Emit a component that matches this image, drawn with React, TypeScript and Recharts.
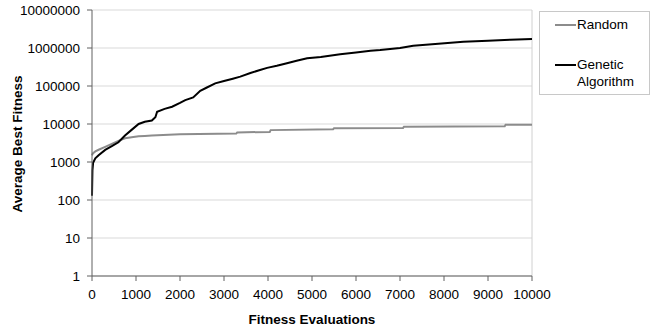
import {
  LineChart,
  Line,
  XAxis,
  YAxis,
  CartesianGrid,
  Legend,
  ReferenceLine,
  Label,
} from "recharts";

const X_TICKS = [0, 1000, 2000, 3000, 4000, 5000, 6000, 7000, 8000, 9000, 10000];
const Y_TICKS = [1, 10, 100, 1000, 10000, 100000, 1000000, 10000000];
const SERIES_NAMES = ["Random", "Genetic Algorithm"];

const randomEvals = [
  0, 10, 25, 75, 150, 300, 450, 600, 750, 900, 1060, 1200, 1360, 2000, 3280,
  3300, 4040, 4060, 5480, 5500, 7070, 7090, 9380, 9400, 10000,
];
const randomFitness = [
  1500, 1600, 1700, 1900, 2100, 2500, 3000, 3600, 4200, 4500, 4750, 4850, 5000,
  5400, 5600, 6000, 6200, 6900, 7300, 7700, 7900, 8500, 8700, 9500, 9600,
];

const gaEvals = [
  0, 10, 25, 75, 150, 300, 450, 600, 750, 900, 1060, 1200, 1360, 1440, 1480,
  1650, 1820, 2000, 2120, 2300, 2460, 2600, 2800, 3000, 3200, 3370, 3600, 3800,
  3980, 4200, 4430, 4650, 4890, 5200, 5640, 6000, 6330, 6550, 7000, 7300, 7800,
  8440, 9000, 9500, 10000,
];
const gaFitness = [
  130, 600, 950, 1250, 1500, 2080, 2600, 3300, 5000, 7000, 10000, 11500, 12300,
  15000, 21000, 25000, 28500, 36000, 42600, 50000, 75000, 90000, 117000, 135000,
  155000, 176000, 220000, 260000, 300000, 340000, 396000, 460000, 535000,
  580000, 680000, 760000, 850000, 880000, 1000000, 1150000, 1280000, 1470000,
  1550000, 1650000, 1730000,
];

const randomData = randomEvals.map((e, i) => ({ evals: e, fitness: randomFitness[i] }));
const gaData = gaEvals.map((e, i) => ({ evals: e, fitness: gaFitness[i] }));

const FONT = "Arial, 'Liberation Sans', sans-serif";
const tickStyle = { fontSize: 13.5, fill: "#000", fontFamily: FONT };

function LegendBox(props: any) {
  const items = [...(props.payload || [])].sort(
    (a: any, b: any) => SERIES_NAMES.indexOf(a.value) - SERIES_NAMES.indexOf(b.value)
  );
  return (
    <div
      style={{
        boxSizing: "border-box",
        width: 111,
        height: 84,
        border: "1px solid #c8c8c8",
        background: "#fff",
        paddingTop: 4,
        fontFamily: FONT,
        fontSize: 13.5,
        lineHeight: "17px",
        color: "#000",
      }}
    >
      {items.map((entry: any, i: number) => (
        <div
          key={entry.value}
          style={{ display: "flex", alignItems: "flex-start", marginTop: i === 0 ? 0 : 23 }}
        >
          <span
            style={{
              display: "inline-block",
              marginLeft: 15,
              marginTop: 7.5,
              width: 21,
              height: 2,
              background: entry.color,
            }}
          />
          <span style={{ marginLeft: 1, width: 68 }}>{entry.value}</span>
        </div>
      ))}
    </div>
  );
}

export default function App() {
  return (
    <div style={{ position: "absolute", left: 0, top: 0, background: "#fff" }}>
      <LineChart
        width={658}
        height={333}
        margin={{ top: 10, right: 126, bottom: 0, left: 0 }}
      >
        <CartesianGrid vertical={false} stroke="#d9d9d9" />
        <XAxis
          type="number"
          dataKey="evals"
          domain={[0, 10000]}
          ticks={X_TICKS}
          height={57}
          tickSize={5}
          tickMargin={8}
          tick={tickStyle}
          stroke="#606060"
          allowDuplicatedCategory={false}
        >
          <Label
            value="Fitness Evaluations"
            position="insideBottom"
            offset={9}
            style={{ fontSize: 13.5, fontWeight: "bold", fill: "#000", fontFamily: FONT }}
          />
        </XAxis>
        <YAxis
          scale="log"
          domain={[1, 10000000]}
          ticks={Y_TICKS}
          allowDataOverflow
          width={92}
          tickSize={5}
          tickMargin={7}
          tick={tickStyle}
          stroke="#606060"
        >
          <Label
            content={() => (
              <text
                x={17}
                y={144}
                transform="rotate(-90 17 144)"
                textAnchor="middle"
                dominantBaseline="central"
                style={{ fontSize: 13.5, fontWeight: "bold", fill: "#000", fontFamily: FONT }}
              >
                Average Best Fitness
              </text>
            )}
          />
        </YAxis>
        <ReferenceLine x={10000} stroke="#d0d0d0" />
        <Line
          data={randomData}
          dataKey="fitness"
          name="Random"
          type="linear"
          stroke="#8c8c8c"
          strokeWidth={2}
          dot={false}
          activeDot={false}
          isAnimationActive={false}
        />
        <Line
          data={gaData}
          dataKey="fitness"
          name="Genetic Algorithm"
          type="linear"
          stroke="#000"
          strokeWidth={2}
          dot={false}
          activeDot={false}
          isAnimationActive={false}
        />
        <Legend
          layout="vertical"
          align="center"
          verticalAlign="middle"
          content={LegendBox}
          wrapperStyle={{ left: 539, top: 11, width: 111, height: 84 }}
        />
      </LineChart>
    </div>
  );
}
